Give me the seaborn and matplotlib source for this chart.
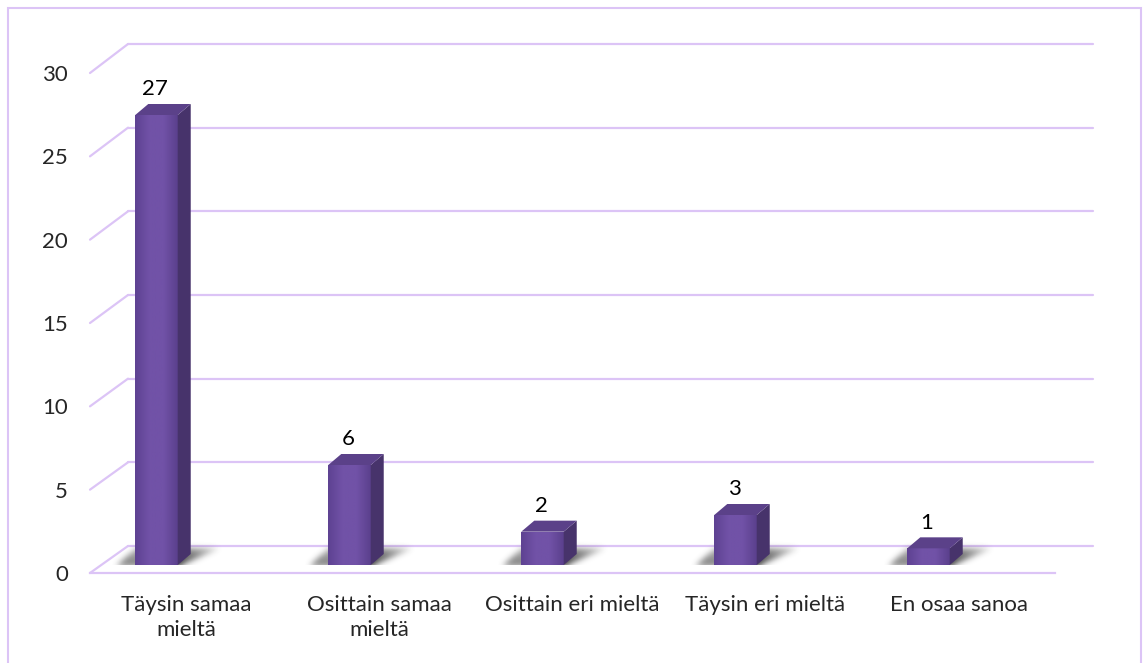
import numpy as np
import matplotlib
matplotlib.use("Agg")
import matplotlib.pyplot as plt
import seaborn as sns
from matplotlib.patches import Polygon, Rectangle
from matplotlib.lines import Line2D
from matplotlib.colors import LinearSegmentedColormap

# --- data ---------------------------------------------------------------
categories = ["Täysin samaa\nmieltä", "Osittain samaa\nmieltä",
              "Osittain eri mieltä", "Täysin eri mieltä", "En osaa sanoa"]
values = [27, 6, 2, 3, 1]
y_ticks = [0, 5, 10, 15, 20, 25, 30]

# --- style --------------------------------------------------------------
sns.set_style("white")
plt.rcParams["font.family"] = ["Lato", "DejaVu Sans"]
FONT_SIZE = 16
GRID = "#dcc4f6"
FRONT_L, FRONT_M, FRONT_R = "#5e4292", "#7152a7", "#5b408d"
SIDE = "#47336b"
TOP = "#5b4189"

W, H = 1143, 663
fig = plt.figure(figsize=(W / 100, H / 100), dpi=100)
fig.patch.set_facecolor("white")


def px_box(left, base, width, height):
    """Axes rectangle from pixel geometry (base measured from the top)."""
    return [left / W, (H - base) / H, width / W, height / H]


def blur1d(arr, kernel, axis):
    pad = len(kernel) // 2
    padded = np.pad(arr, [(pad, pad) if a == axis else (0, 0) for a in range(arr.ndim)])
    return np.apply_along_axis(lambda r: np.convolve(r, kernel, mode="valid"), axis, padded)


# back wall, front plane (labels / floor edge) and the plane the bars stand in
ax_back = fig.add_axes(px_box(128, 546, 965, 502))
ax_front = fig.add_axes(px_box(90, 573, 965, 500))
ax_bar = fig.add_axes(px_box(60, 565, 965, 500))
for a in (ax_back, ax_front, ax_bar):
    a.set_facecolor("none")
    a.set_xlim(-0.5, 4.5)
    a.set_ylim(0, 30)

# back-wall gridlines
ax_back.set_yticks(y_ticks)
ax_back.set_xticks([])
ax_back.tick_params(length=0, labelleft=False, labelbottom=False)
ax_back.grid(axis="y", color=GRID, linewidth=1.6)
for gl in ax_back.get_ygridlines():
    gl.set_clip_on(False)
for s in ax_back.spines.values():
    s.set_visible(False)

# front plane: tick labels and floor edge
ax_front.set_yticks(y_ticks)
ax_front.set_yticklabels([str(t) for t in y_ticks], fontsize=FONT_SIZE)
ax_front.set_xticks(range(len(categories)))
ax_front.set_xticklabels(categories, fontsize=FONT_SIZE, linespacing=1.3)
ax_front.tick_params(axis="y", length=0, pad=16)
ax_front.tick_params(axis="x", length=0, pad=16)
for k, s in ax_front.spines.items():
    s.set_visible(k == "bottom")
ax_front.spines["bottom"].set_color(GRID)
ax_front.spines["bottom"].set_linewidth(1.6)

# side-wall diagonals joining front plane to back wall
to_fig = fig.transFigure.inverted()
for t in y_ticks:
    p0 = to_fig.transform(ax_front.transData.transform((-0.5, t)))
    p1 = to_fig.transform(ax_back.transData.transform((-0.5, t)))
    fig.add_artist(Line2D([p0[0], p1[0]], [p0[1], p1[1]],
                          transform=fig.transFigure, color=GRID, lw=1.6))

# --- bars ----------------------------------------------------------------
sns.barplot(x=categories, y=values, color=FRONT_M, width=0.22,
            saturation=1, ax=ax_bar, zorder=3)
ax_bar.set_xlim(-0.5, 4.5)
ax_bar.set_ylim(0, 30)
ax_bar.axis("off")

# depth of the extruded bars in data units (about 13 px right, 11 px up)
px_x = 965 / 5.0
px_y = 500 / 30.0
dx, dy = 13 / px_x, 11 / px_y

grad_cmap = LinearSegmentedColormap.from_list(
    "face", [FRONT_L, FRONT_M, FRONT_M, FRONT_R], N=256)
kernel = np.exp(-0.5 * (np.arange(-8, 9) / 3.0) ** 2)
kernel /= kernel.sum()

for p, v in zip(list(ax_bar.patches), values):
    x0, w, h = p.get_x(), p.get_width(), p.get_height()
    x1 = x0 + w

    # soft floor shadow: a skewed patch running back and to the right
    sx0, sx1 = x0 - 30 / px_x, x1 + 60 / px_x
    sy0, sy1 = -6 / px_y, 24 / px_y
    nx, ny = int((sx1 - sx0) * px_x), int((sy1 - sy0) * px_y)
    Xp, Yp = np.meshgrid(np.linspace(-30, (x1 - x0) * px_x + 60, nx),
                         np.linspace(24, -6, ny))
    wpx = (x1 - x0) * px_x
    t = np.clip(Yp / 17.0, 0, 1)
    left_edge = -18 + 18 * t
    right_edge = wpx + 4 + 38 * t
    inside = ((Xp > left_edge) & (Xp < right_edge) &
              (Yp > -1) & (Yp < 17)).astype(float)
    blur = blur1d(blur1d(inside, kernel, 1), kernel, 0)
    fade_r = np.clip(1 - (Xp - wpx) / 50.0, 0, 1) ** 0.7
    fade = np.where(Xp < wpx, 0.6 + 0.4 * np.clip(Xp / wpx, 0, 1), fade_r)
    fade *= np.clip(1 - 0.35 * Yp / 17.0, 0.4, 1)
    rgba = np.zeros((ny, nx, 4))
    rgba[..., :3] = 0.22
    rgba[..., 3] = np.clip(blur * fade * 1.05, 0, 1)
    ax_bar.imshow(rgba, extent=[sx0, sx1, sy0, sy1], aspect="auto",
                  interpolation="bilinear", zorder=1)

    # front face with a gentle horizontal gradient
    grad = np.linspace(0, 1, 64).reshape(1, -1)
    im = ax_bar.imshow(grad, extent=[x0, x1, 0, h], aspect="auto",
                       cmap=grad_cmap, zorder=3, interpolation="bilinear")
    im.set_clip_path(p)
    p.set_facecolor("none")
    p.set_edgecolor("none")

    # side and top faces
    ax_bar.add_patch(Polygon([(x1, 0), (x1, h), (x1 + dx, h + dy), (x1 + dx, dy)],
                             closed=True, facecolor=SIDE, edgecolor="none", zorder=3))
    ax_bar.add_patch(Polygon([(x0, h), (x1, h), (x1 + dx, h + dy), (x0 + dx, h + dy)],
                             closed=True, facecolor=TOP, edgecolor="none", zorder=3))

    ax_bar.annotate(f"{v}", (x0 + w / 2, h), xytext=(-1, 18.5),
                    textcoords="offset points", ha="center", va="center",
                    fontsize=FONT_SIZE, color="black")

ax_bar.set_xlim(-0.5, 4.5)
ax_bar.set_ylim(0, 30)

# chart-area border
fig.add_artist(Rectangle((8 / W, -0.02), (1141 - 8) / W, 1.02 - 8 / H,
                         transform=fig.transFigure, fill=False,
                         edgecolor=GRID, linewidth=1.5))

fig.savefig("out.png", dpi=100)
